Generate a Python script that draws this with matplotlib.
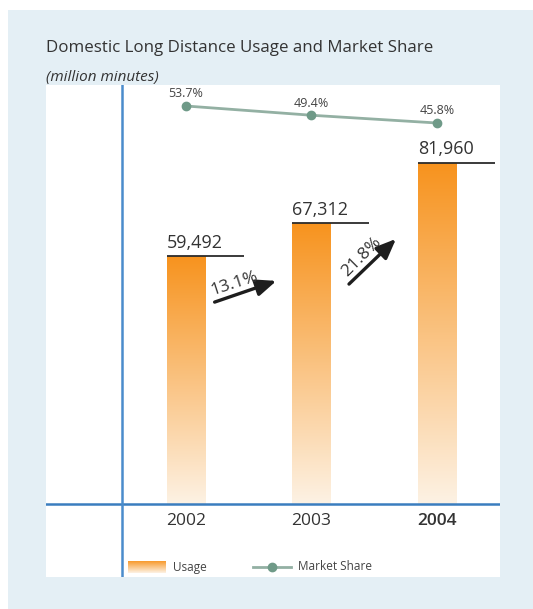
import numpy as np
import matplotlib
matplotlib.use("Agg")
import matplotlib.pyplot as plt
from matplotlib.patches import Rectangle, FancyArrowPatch
from matplotlib.lines import Line2D

plt.rcParams['font.family'] = ['Open Sans', 'DejaVu Sans']

# ---- data ----
years = ["2002", "2003", "2004"]
usage = [59492, 67312, 81960]
usage_labels = ["59,492", "67,312", "81,960"]
market_share = [53.7, 49.4, 45.8]
share_labels = ["53.7%", "49.4%", "45.8%"]
growth_labels = ["13.1%", "21.8%"]

W, H = 533, 609
DPI = 100
fig = plt.figure(figsize=(W / DPI, H / DPI), dpi=DPI, facecolor="white")


def fx(x):
    return x / W


def fy(y):
    return 1 - y / H


# light blue panel and white chart area
fig.patches.append(Rectangle((fx(8), 0), 1 - fx(8), fy(10), transform=fig.transFigure,
                             facecolor="#e4eff5", edgecolor="none", zorder=-20))
left, right, top, bottom = 46, 500, 85, 577
fig.patches.append(Rectangle((fx(left), fy(bottom)), fx(right - left), (bottom - top) / H,
                             transform=fig.transFigure, facecolor="white",
                             edgecolor="none", zorder=-10))

ax = fig.add_axes([fx(left), fy(bottom), fx(right - left), (bottom - top) / H])
ax.set_facecolor("none")
ax.axis("off")

x = np.arange(len(years))
bar_w = 0.303

orange_top = np.array([247, 147, 30]) / 255
orange_bot = np.array([253, 242, 228]) / 255
grad = np.linspace(0, 1, 256)[:, None]
grad_img = orange_top[None, None, :] * (1 - grad[..., None]) + orange_bot[None, None, :] * grad[..., None]

bars = ax.bar(x, usage, width=bar_w, color="none", edgecolor="none")
for b, lab in zip(bars, usage_labels):
    x0, w, h = b.get_x(), b.get_width(), b.get_height()
    ax.imshow(grad_img, extent=(x0, x0 + w, 0, h), aspect="auto", zorder=2,
              interpolation="bilinear")
    ax.plot([x0, x0 + 0.613], [h, h], color="#2b2b2b", lw=1.3, zorder=3,
            solid_capstyle="butt")
    ax.text(x0, h + 1000, lab, fontsize=13, color="#333333", ha="left", va="bottom",
            zorder=4)
ax.set_xlim(-1.1155, 2.502)
ax.set_ylim(-17668, 100601)

# axis lines
ax.axhline(0, color="#3a7dbf", lw=1.8, zorder=5)
ax.axvline(-0.5135, color="#4a8ccc", lw=1.8, zorder=5)

# year labels
for xi, yr in zip(x, years):
    ax.text(xi, -4200, yr, fontsize=12.5, color="#333333", ha="center", va="center",
            fontweight="semibold" if yr == "2004" else "normal")

# market share line on its own scale
ax2 = ax.twinx()
ax2.set_ylim(-165.2, 63.46)
ax2.axis("off")
ax2.plot(x, market_share, color="#93b0a3", lw=2, marker="o", markersize=6,
         markerfacecolor="#6f9a88", markeredgecolor="#6f9a88", zorder=4)
for xi, v, lab in zip(x, market_share, share_labels):
    ax2.text(xi, v + 2.6, lab, fontsize=9, color="#444444", ha="center", va="bottom")

# growth arrows
arrows = [((212, 303), (279, 280)), ((347, 286), (398, 237))]
label_pos = [(234, 284, 18), (362, 257, 45)]
for (p0, p1), (lx, ly, rot), lab in zip(arrows, label_pos, growth_labels):
    arr = FancyArrowPatch((fx(p0[0]), fy(p0[1])), (fx(p1[0]), fy(p1[1])),
                          transform=fig.transFigure,
                          arrowstyle="-|>,head_length=12,head_width=5",
                          mutation_scale=1, lw=2.4, color="#1e1e1e", zorder=6)
    fig.patches.append(arr)
    fig.text(fx(lx), fy(ly), lab, fontsize=12.5, color="#333333", rotation=rot,
             ha="center", va="center", rotation_mode="anchor", zorder=7)

# titles
fig.text(fx(46), fy(48), "Domestic Long Distance Usage and Market Share", fontsize=12.2,
         color="#333333", ha="left", va="center")
fig.text(fx(46), fy(77), "(million minutes)", fontsize=11, color="#333333",
         ha="left", va="center", style="italic")

# legend
lg_y = 567
leg_grad = np.linspace(0, 1, 64)[:, None]
leg_img = orange_top[None, None, :] * (1 - leg_grad[..., None]) + orange_bot[None, None, :] * leg_grad[..., None]
lax = fig.add_axes([fx(128), fy(573), fx(38), 12 / H])
lax.imshow(leg_img, aspect="auto", extent=(0, 1, 0, 1))
lax.axis("off")
fig.text(fx(173), fy(lg_y), "Usage", fontsize=8.5, color="#444444", ha="left", va="center")
fig.lines.append(Line2D([fx(253), fx(291)], [fy(lg_y), fy(lg_y)], transform=fig.transFigure,
                        color="#93b0a3", lw=2))
fig.lines.append(Line2D([fx(272)], [fy(lg_y)], transform=fig.transFigure, marker="o",
                        markersize=6, color="#6f9a88"))
fig.text(fx(298), fy(lg_y), "Market Share", fontsize=8.5, color="#444444", ha="left",
         va="center")

fig.savefig("out.png", dpi=DPI, facecolor="white")
